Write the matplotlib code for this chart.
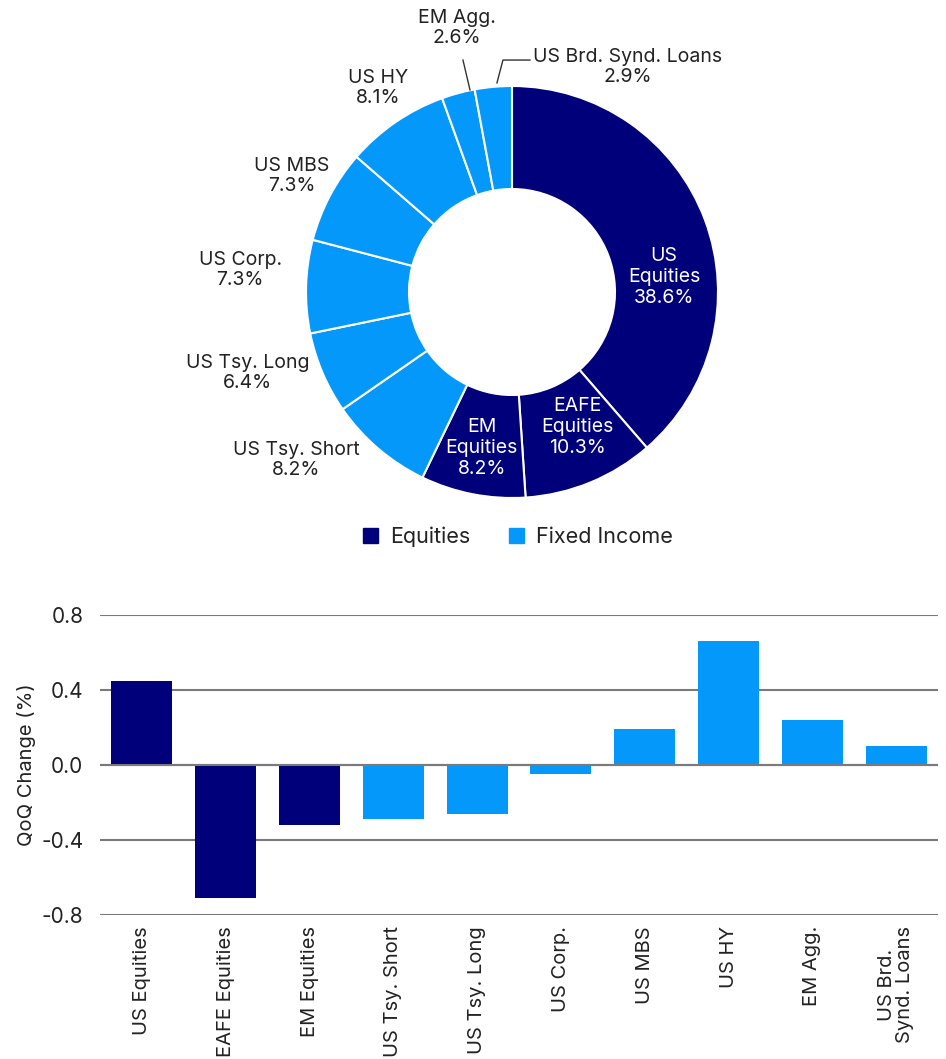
import matplotlib.pyplot as plt
from matplotlib.patches import Patch

plt.rcParams['font.family'] = ['Inter', 'DejaVu Sans']

# donut data
pie_labels = ['US\nEquities', 'EAFE\nEquities', 'EM\nEquities', 'US Tsy. Short', 'US Tsy. Long',
              'US Corp.', 'US MBS', 'US HY', 'EM Agg.', 'US Brd. Synd. Loans']
pie_values = [38.6, 10.3, 8.2, 8.2, 6.4, 7.3, 7.3, 8.1, 2.6, 2.9]
pie_group = ['eq', 'eq', 'eq', 'fi', 'fi', 'fi', 'fi', 'fi', 'fi', 'fi']

# bar data
bar_labels = ['US Equities', 'EAFE Equities', 'EM Equities', 'US Tsy. Short', 'US Tsy. Long',
              'US Corp.', 'US MBS', 'US HY', 'EM Agg.', 'US Brd.\nSynd. Loans']
bar_values = [0.45, -0.71, -0.32, -0.29, -0.26, -0.05, 0.19, 0.66, 0.24, 0.10]

navy = '#00007A'
blue = '#0598FB'
colors = {'eq': navy, 'fi': blue}
txt = '#222222'

fig = plt.figure(figsize=(9.46, 10.59), dpi=100)
W, H = 946, 1059

# ---- donut ----
cx, cy, R = 512, 292, 206
ax1 = fig.add_axes([(cx - R) / W, (H - cy - R) / H, 2 * R / W, 2 * R / H])
ax1.pie(pie_values, colors=[colors[g] for g in pie_group], startangle=90, counterclock=False,
        radius=1, wedgeprops=dict(width=0.5, edgecolor='white', linewidth=1.5))
ax1.set_xlim(-1, 1)
ax1.set_ylim(-1, 1)
ax1.set_aspect('equal')
ax1.axis('off')

# label positions (data units of the donut axes)
label_pos = [(0.738, 0.073), (0.316, -0.655), (-0.146, -0.757), (-1.049, -0.816), (-1.282, -0.393),
             (-1.320, 0.107), (-1.068, 0.563), (-0.650, 0.990), (-0.267, 1.282), (0.563, 1.092)]
for i, (lab, val) in enumerate(zip(pie_labels, pie_values)):
    inside = i < 3
    ax1.text(label_pos[i][0], label_pos[i][1], f'{lab}\n{val}%', ha='center', va='center',
             fontsize=14, color='white' if inside else txt, linespacing=1.2, clip_on=False)

# leader lines
ax1.plot([-0.238, -0.204], [1.126, 0.981], color='#333333', lw=1, clip_on=False)
ax1.plot([-0.073, -0.044, 0.087], [1.015, 1.126, 1.126], color='#333333', lw=1, clip_on=False)

handles = [Patch(color=navy, label='Equities'), Patch(color=blue, label='Fixed Income')]
fig.legend(handles=handles, loc='center', bbox_to_anchor=(518 / W, 1 - 537 / H), ncol=2,
           frameon=False, fontsize=15.5, handlelength=0.7, handleheight=0.7,
           handletextpad=0.55, columnspacing=1.8, labelcolor=txt)

# ---- bars ----
ax2 = fig.add_axes([100 / W, 1 - 915 / H, 838 / W, 300 / H])
x = range(len(bar_values))
bar_colors = [colors[g] for g in pie_group]
ax2.bar(x, bar_values, width=0.73, color=bar_colors, zorder=2)
ax2.set_xlim(-0.5, len(bar_values) - 0.5)
ax2.set_ylim(-0.8, 0.8)
ax2.set_yticks([-0.8, -0.4, 0.0, 0.4, 0.8])
ax2.set_yticklabels(['-0.8', '-0.4', '0.0', '0.4', '0.8'])
ax2.yaxis.grid(True, color='#7a7a7a', lw=1.5, zorder=1)
ax2.set_axisbelow(True)
ax2.axhline(0, color='#7a7a7a', lw=1.5, zorder=3)
for s in ax2.spines.values():
    s.set_visible(False)
ax2.tick_params(axis='both', length=0, labelsize=15, colors=txt)
ax2.set_xticks(list(x))
ax2.set_xticklabels(bar_labels, rotation=90, fontsize=14.5, linespacing=1.0, va='top', ha='center')
ax2.tick_params(axis='x', pad=8)
ax2.tick_params(axis='y', pad=12)
ax2.set_ylabel('QoQ Change (%)', fontsize=14.5, color=txt, labelpad=4)

plt.savefig('out.png', dpi=100)
